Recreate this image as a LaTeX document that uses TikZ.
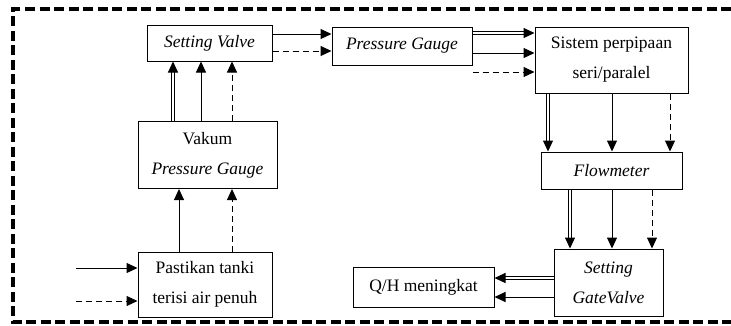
\documentclass[tikz,border=0pt]{standalone}
\usepackage{fontspec}
\setmainfont{Liberation Serif}
\usetikzlibrary{arrows.meta}
\begin{document}
\begin{tikzpicture}[x=1pt, y=-1pt, font=\fontsize{17.5}{30}\selectfont,
  box/.style={draw, line width=1pt, align=center, inner sep=0pt},
  arr/.style={line width=1pt, -{Triangle[length=11pt,width=10pt]}},
  darr/.style={arr, dash pattern=on 6pt off 4pt},
  dblarr/.style={arr, double, double distance=1.6pt}]
\useasboundingbox (0,0) rectangle (731,325);
% frame
\draw[line width=3.5pt, dash pattern=on 10pt off 4.5pt] (731,9) -- (13,9) -- (13,322) -- (731,322);
% boxes
\node[box, minimum width=125, minimum height=36] (sv) at (209.5,43) {\textit{Setting Valve}};
\node[box, minimum width=140, minimum height=38] (pg) at (402,46) {\textit{Pressure Gauge}};
\node[box, minimum width=153, minimum height=66] (sis) at (611.5,60) {Sistem perpipaan\\seri/paralel};
\node[box, minimum width=139, minimum height=67] (vak) at (207.5,155) {Vakum\\\textit{Pressure Gauge}};
\node[box, minimum width=134, minimum height=65] (tank) at (205,284.5) {Pastikan tanki\\terisi air penuh};
\node[box, minimum width=141, minimum height=37] (flow) at (611.5,170.5) {\textit{Flowmeter}};
\node[box, minimum width=109, minimum height=67] (gate) at (608.5,282.5) {\textit{Setting}\\\textit{GateValve}};
\node[box, minimum width=141, minimum height=40] (qh) at (423.5,287) {Q/H meningkat};
\coordinate (in1) at (76,268);
\coordinate (in2) at (76,301);
% inputs
\draw[arr] (in1) -- (in1 -| tank.west);
\draw[darr] (in2) -- (in2 -| tank.west);
% tank -> vakum
\draw[arr] ([xshift=-26pt]tank.north) -- ([xshift=-26pt]tank.north |- vak.south);
\draw[darr] ([xshift=27pt]tank.north) -- ([xshift=27pt]tank.north |- vak.south);
% vakum -> setting valve
\draw[dblarr] ([xshift=-34.5pt]vak.north) -- ([xshift=-34.5pt]vak.north |- sv.south);
\draw[arr] ([xshift=-6.5pt]vak.north) -- ([xshift=-6.5pt]vak.north |- sv.south);
\draw[darr] ([xshift=24.5pt]vak.north) -- ([xshift=24.5pt]vak.north |- sv.south);
% setting valve -> pressure gauge
\draw[arr] ([yshift=9pt]sv.east) -- ([yshift=9pt]sv.east -| pg.west);
\draw[darr] ([yshift=-8pt]sv.east) -- ([yshift=-8pt]sv.east -| pg.west);
% pressure gauge -> sistem
\draw[dblarr] ([yshift=27pt]sis.west -| pg.east) -- ([yshift=27pt]sis.west);
\draw[arr] ([yshift=7pt]sis.west -| pg.east) -- ([yshift=7pt]sis.west);
\draw[darr] ([yshift=-12pt]sis.west -| pg.east) -- ([yshift=-12pt]sis.west);
% sistem -> flowmeter
\draw[dblarr] ([xshift=-63.5pt]sis.south) -- ([xshift=-63.5pt]sis.south |- flow.north);
\draw[arr] ([xshift=0.5pt]sis.south) -- ([xshift=0.5pt]sis.south |- flow.north);
\draw[darr] ([xshift=58.5pt]sis.south) -- ([xshift=58.5pt]sis.south |- flow.north);
% flowmeter -> gate valve
\draw[dblarr] ([xshift=-41.5pt]flow.south) -- ([xshift=-41.5pt]flow.south |- gate.north);
\draw[arr] ([xshift=0.5pt]flow.south) -- ([xshift=0.5pt]flow.south |- gate.north);
\draw[darr] ([xshift=40.5pt]flow.south) -- ([xshift=40.5pt]flow.south |- gate.north);
% gate valve -> Q/H
\draw[dblarr] ([yshift=4.5pt]gate.west) -- ([yshift=4.5pt]gate.west -| qh.east);
\draw[arr] ([yshift=-14.5pt]gate.west) -- ([yshift=-14.5pt]gate.west -| qh.east);
\end{tikzpicture}
\end{document}
